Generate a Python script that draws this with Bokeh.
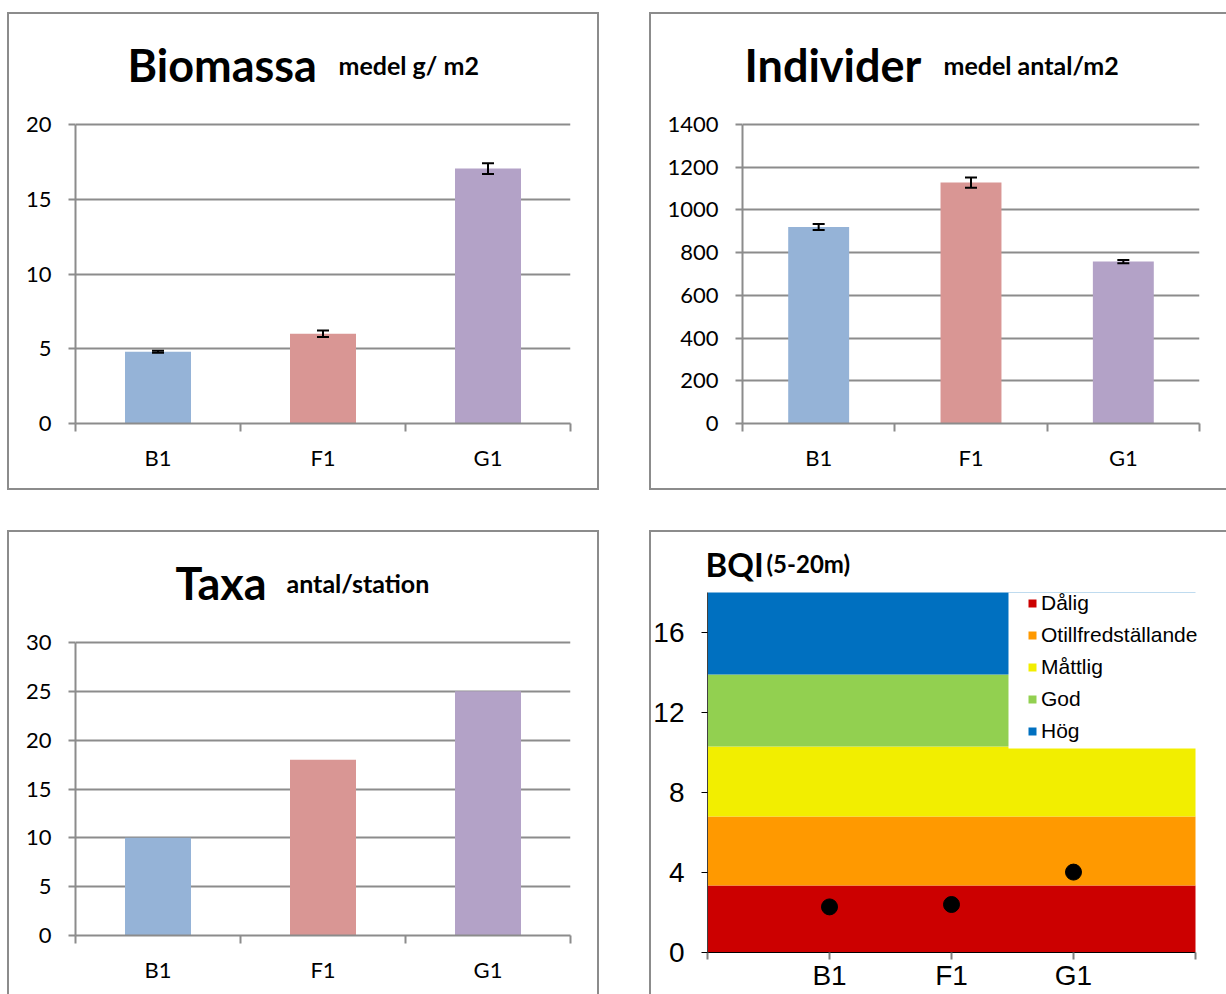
from bokeh.plotting import figure
from bokeh.models import (ColumnDataSource, Whisker, TeeHead, FixedTicker, Label,
                          Legend, LegendItem, BoxAnnotation, Range1d, Spacer)
from bokeh.layouts import column, row
from bokeh.embed import file_html
from bokeh.resources import INLINE

# ---------------- data ----------------
stations = ["B1", "F1", "G1"]
bar_colors = ["#95B3D7", "#D99694", "#B3A2C7"]

biomassa = [4.8, 6.0, 17.05]
biomassa_err = [0.06, 0.22, 0.36]

individer = [920, 1128, 758]
individer_err = [14, 24, 8]

taxa = [10, 18, 25]

bqi = [2.28, 2.4, 4.02]
bqi_classes = ["Dålig", "Otillfredställande", "Måttlig", "God", "Hög"]
bqi_bounds = [0, 3.35, 6.8, 10.3, 13.9, 18.0]
bqi_colors = ["#CC0000", "#FF9900", "#F2EE00", "#92D050", "#0070C0"]

GRAY = "#8c8c8c"
FONT = "Lato"


def bar_panel(values, errors, ymax, ystep, title, subtitle, width, height,
              left, top_pad, fw, fh, tx, sx, ty, shadow):
    """top_pad: pixels between panel top and the value-axis maximum."""
    n = len(stations)
    xs = [i + 0.5 for i in range(n)]
    extra = (top_pad - 2) / fh * ymax
    p = figure(width=width, height=height, x_range=Range1d(0, n),
               y_range=Range1d(0, ymax + extra),
               output_backend="svg", toolbar_location=None,
               min_border_left=left, min_border_top=2,
               min_border_right=width - left - fw,
               min_border_bottom=height - top_pad - fh)
    p.outline_line_color = None
    p.border_fill_alpha = 0
    p.background_fill_alpha = 0
    p.styles = {"box-shadow": shadow}
    p.xgrid.visible = False
    p.ygrid.grid_line_color = GRAY
    p.ygrid.grid_line_width = 2
    p.ygrid.ticker = FixedTicker(ticks=list(range(0, ymax + 1, ystep)))

    p.vbar(x=xs, top=values, width=0.4, color=bar_colors, line_color=None)
    if errors is not None:
        src = ColumnDataSource(dict(x=xs,
                                    upper=[v + e for v, e in zip(values, errors)],
                                    lower=[v - e for v, e in zip(values, errors)]))
        w = Whisker(base="x", upper="upper", lower="lower", source=src, level="overlay",
                    line_color="black", line_width=2,
                    upper_head=TeeHead(size=12, line_width=2, line_color="black"),
                    lower_head=TeeHead(size=12, line_width=2, line_color="black"))
        p.add_layout(w)

    ya = p.yaxis[0]
    ya.ticker = FixedTicker(ticks=list(range(0, ymax + 1, ystep)))
    ya.bounds = (0, ymax)
    ya.axis_line_color = GRAY
    ya.axis_line_width = 2
    ya.major_tick_line_color = GRAY
    ya.major_tick_line_width = 2
    ya.major_tick_out = 7
    ya.major_tick_in = 0
    ya.minor_tick_out = 0
    ya.minor_tick_in = 0
    ya.major_label_text_font = FONT
    ya.major_label_text_font_size = "22px"
    ya.major_label_text_color = "black"
    ya.major_label_standoff = 17

    xa = p.xaxis[0]
    xa.ticker = FixedTicker(ticks=xs, minor_ticks=list(range(0, n + 1)))
    xa.major_label_overrides = {x: s for x, s in zip(xs, stations)}
    xa.axis_line_color = GRAY
    xa.axis_line_width = 2
    xa.major_tick_out = 0
    xa.major_tick_in = 0
    xa.minor_tick_out = 8
    xa.minor_tick_in = 0
    xa.minor_tick_line_color = GRAY
    xa.minor_tick_line_width = 2
    xa.major_label_text_font = FONT
    xa.major_label_text_font_size = "22px"
    xa.major_label_text_color = "black"
    xa.major_label_standoff = 12

    p.add_layout(Label(x=tx, y=ty, x_units="screen", y_units="screen", text=title,
                       text_font=FONT, text_font_style="bold", text_font_size="45px",
                       text_color="black", text_baseline="alphabetic"))
    p.add_layout(Label(x=sx, y=ty, x_units="screen", y_units="screen", text=subtitle,
                       text_font=FONT, text_font_style="bold", text_font_size="25px",
                       text_color="black", text_baseline="alphabetic"))
    return p


p1 = bar_panel(biomassa, biomassa_err, 20, 5, "Biomassa", "medel g/ m2",
               592, 478, 68, 112, 495, 299, 52, 263, 359,
               f"inset 0 0 0 2px {GRAY}")
p2 = bar_panel(individer, individer_err, 1400, 200, "Individer", "medel antal/m2",
               577, 478, 93, 112, 457, 299, 2, 201, 359,
               f"inset 2px 0 0 0 {GRAY}, inset 0 2px 0 0 {GRAY}, inset 0 -2px 0 0 {GRAY}")
p3 = bar_panel(taxa, None, 30, 5, "Taxa", "antal/station",
               592, 464, 68, 112, 495, 293, 100, 211, 353,
               f"inset 2px 0 0 0 {GRAY}, inset -2px 0 0 0 {GRAY}, inset 0 2px 0 0 {GRAY}")

# ---------------- BQI panel ----------------
n = len(stations)
fw4, fh4, top4, right_extra = 488, 360, 62, 29
xmax4 = n + 1
ymax4 = bqi_bounds[-1]
p4 = figure(width=577, height=464,
            x_range=Range1d(0, xmax4 + right_extra / fw4 * xmax4),
            y_range=Range1d(0, ymax4 + (top4 - 2) / fh4 * ymax4),
            output_backend="svg", toolbar_location=None,
            min_border_left=58, min_border_top=2, min_border_right=2, min_border_bottom=42)
p4.outline_line_color = None
p4.border_fill_alpha = 0
p4.background_fill_alpha = 0
p4.styles = {"box-shadow": f"inset 2px 0 0 0 {GRAY}, inset 0 2px 0 0 {GRAY}"}
p4.grid.visible = False

band_src = ColumnDataSource(dict(left=[0] * len(bqi_classes), right=[xmax4] * len(bqi_classes),
                                 bottom=bqi_bounds[:-1], top=bqi_bounds[1:], color=bqi_colors))
bands = p4.quad(left="left", right="right", bottom="bottom", top="top", color="color",
                line_color=None, source=band_src)
p4.scatter(x=[i + 1 for i in range(n)], y=bqi, size=16, color="black")

p4.add_layout(BoxAnnotation(left=301, right=700, bottom=204, top=360,
                            left_units="screen", right_units="screen",
                            bottom_units="screen", top_units="screen",
                            fill_color="white", fill_alpha=1, line_alpha=0))

legend = Legend(items=[LegendItem(label=c, renderers=[bands], index=i)
                       for i, c in enumerate(bqi_classes)],
                location=(320, 209), orientation="vertical",
                background_fill_alpha=0, border_line_alpha=0,
                padding=0, margin=0, spacing=8, label_standoff=4,
                glyph_width=10, glyph_height=10, label_height=24,
                label_text_font="Liberation Sans", label_text_font_size="21px",
                label_text_color="black")
p4.add_layout(legend, "center")

ya = p4.yaxis[0]
ya.ticker = FixedTicker(ticks=[0, 4, 8, 12, 16])
ya.bounds = (0, ymax4)
ya.axis_line_color = "#404040"
ya.axis_line_width = 1
ya.major_tick_line_color = "black"
ya.major_tick_out = 6
ya.major_tick_in = 0
ya.minor_tick_out = 0
ya.minor_tick_in = 0
ya.major_label_text_font = "Liberation Sans"
ya.major_label_text_font_size = "28px"
ya.major_label_text_color = "black"
ya.major_label_standoff = 17

xa = p4.xaxis[0]
xa.ticker = FixedTicker(ticks=list(range(0, xmax4 + 1)))
xa.bounds = (0, xmax4)
overrides = {i + 1: s for i, s in enumerate(stations)}
overrides.update({0: "", xmax4: ""})
xa.major_label_overrides = overrides
xa.axis_line_color = "black"
xa.axis_line_width = 1
xa.major_tick_line_color = "#808080"
xa.major_tick_line_width = 2
xa.major_tick_out = 7
xa.major_tick_in = 0
xa.minor_tick_out = 0
xa.minor_tick_in = 0
xa.major_label_text_font = "Liberation Sans"
xa.major_label_text_font_size = "28px"
xa.major_label_text_color = "black"
xa.major_label_standoff = 0

p4.add_layout(Label(x=-2, y=389, x_units="screen", y_units="screen", text="BQI",
                    text_font=FONT, text_font_style="bold", text_font_size="33px",
                    text_color="black", text_baseline="alphabetic"))
p4.add_layout(Label(x=59, y=389, x_units="screen", y_units="screen", text="(5-20m)",
                    text_font=FONT, text_font_style="bold", text_font_size="24px",
                    text_color="black", text_baseline="alphabetic"))

layout = column(Spacer(width=1226, height=12),
                row(Spacer(width=7, height=478), column(p1), Spacer(width=50, height=478), column(p2)),
                Spacer(width=1226, height=40),
                row(Spacer(width=7, height=464), column(p3), Spacer(width=50, height=464), column(p4)))

open("out.html", "w").write(file_html(layout, INLINE))
